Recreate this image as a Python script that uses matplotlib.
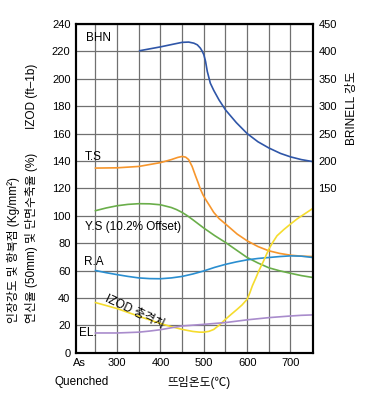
import matplotlib.pyplot as plt

plt.rcParams['font.family'] = ['Liberation Sans', 'Noto Sans CJK KR', 'DejaVu Sans']

# --- data (temperature in C, left axis units) ---
bhn_t = [352, 400, 430, 450, 465, 477, 485, 492, 496, 500, 504, 508, 515, 523, 535, 550, 575, 600, 625, 650, 677, 700, 725, 752]
bhn_v = [220.5, 223.3, 225.3, 226.6, 226.8, 226, 224.8, 222.4, 220.3, 217.6, 212.7, 205.4, 196.8, 191.5, 184.6, 177.3, 168, 160, 154, 149.5, 145.5, 143, 141, 139.5]

ts_t = [250, 300, 350, 400, 425, 440, 450, 458, 465, 473, 481, 487, 492, 498, 504, 514, 523, 535, 550, 577, 600, 625, 650, 675, 700, 725, 752]
ts_v = [134.8, 135, 136, 138.8, 141, 142.6, 143.3, 142.8, 141, 136, 129, 124, 119.5, 115.3, 112, 107, 102.4, 98, 94, 86.6, 81.7, 77.5, 74.4, 72.5, 71.2, 70.5, 70.2]

ys_t = [250, 275, 300, 325, 350, 375, 400, 425, 437, 450, 462, 475, 500, 525, 550, 575, 600, 625, 650, 675, 700, 725, 752]
ys_v = [103.7, 105.7, 107.3, 108.3, 108.8, 108.7, 108, 106, 104.5, 102.4, 100, 97, 91, 85.5, 80.5, 75, 69.5, 65.5, 62, 59.8, 58, 56.3, 54.9]

ra_t = [250, 275, 300, 325, 350, 375, 400, 425, 450, 475, 500, 525, 550, 575, 600, 625, 650, 675, 700, 725, 752]
ra_v = [60, 58.4, 57, 55.7, 54.6, 54.1, 54, 54.6, 55.7, 57.5, 59.7, 62.3, 64.5, 66.3, 67.8, 68.8, 69.5, 70.2, 70.7, 70.5, 69.5]

izod_t = [250, 300, 350, 400, 425, 450, 475, 490, 500, 512, 523, 537, 550, 565, 577, 588, 600, 606, 612, 620, 627, 638, 650, 660, 669, 685, 700, 715, 731, 752]
izod_v = [36.6, 32.2, 26.6, 21.3, 19, 17, 15.5, 15, 15, 15.6, 17, 20.5, 24.4, 28.5, 31.7, 34.8, 39, 43.5, 48.8, 54.5, 59.8, 67, 75.6, 81, 85.4, 90, 93.9, 97.6, 101, 105.4]

el_t = [250, 300, 350, 375, 400, 425, 450, 500, 550, 600, 650, 700, 725, 752]
el_v = [14.4, 14.4, 15, 15.8, 16.8, 18.2, 19.5, 20.7, 22, 24, 25.6, 26.8, 27.3, 27.6]

x_ticks = [300, 400, 500, 600, 700]
left_ticks = list(range(0, 241, 20))
right_ticks = list(range(150, 451, 50))

fig = plt.figure(figsize=(3.65, 4.03), dpi=100)
ax = fig.add_axes([76 / 365, 1 - 352.7 / 403, 237 / 365, 328.7 / 403])

ax.plot(bhn_t, bhn_v, color='#2f56a8', lw=1.2)
ax.plot(ts_t, ts_v, color='#f7962c', lw=1.2)
ax.plot(ys_t, ys_v, color='#6aae4a', lw=1.2)
ax.plot(ra_t, ra_v, color='#2a8ed0', lw=1.2)
ax.plot(izod_t, izod_v, color='#f5dc2e', lw=1.2)
ax.plot(el_t, el_v, color='#a98ccc', lw=1.2)

ax.set_xlim(205, 752)
ax.set_ylim(0, 240)
ax.set_xticks(x_ticks)
ax.set_xticks(list(range(250, 701, 50)), minor=True)
ax.set_yticks(left_ticks)
ax.grid(True, which='both', color='#707070', lw=0.9)
ax.tick_params(which='both', length=0, labelsize=8, pad=4)
for s in ax.spines.values():
    s.set_linewidth(1.5)

# right Brinell axis, same scale shifted: 240 -> 450, 140 -> 200
ax2 = ax.twinx()
ax2.set_ylim(-150, 450)
ax2.set_yticks(right_ticks)
ax2.tick_params(length=0, labelsize=8, pad=4)
for s in ax2.spines.values():
    s.set_linewidth(1.5)

# curve labels
fs = 8.5
ax.text(228, 230, 'BHN', fontsize=fs, va='center')
ax.text(226, 142.8, 'T.S', fontsize=fs, va='center')
ax.text(226, 91.7, 'Y.S (10.2% Offset)', fontsize=fs, va='center')
ax.text(224, 66.2, 'R.A', fontsize=fs, va='center')
ax.text(341, 29.7, 'IZOD 충격치', fontsize=fs, va='center', ha='center', rotation=-25)
ax.text(213, 14.3, 'EL.', fontsize=fs, va='center')

# x axis extras
ax.text(214, -4, 'As', fontsize=8, ha='center', va='top')
fig.text(82 / 365, 1 - 382.5 / 403, 'Quenched', fontsize=fs, ha='center', va='center')
fig.text(199 / 365, 1 - 382.5 / 403, '뜨임온도(℃)', fontsize=fs, ha='center', va='center')

# axis titles
fig.text(13 / 365, 1 - 323 / 403, '인장강도 및 항복점 (Kg/mm²)', fontsize=fs,
         rotation=90, rotation_mode='anchor', ha='left', va='center')
fig.text(31 / 365, 1 - 323 / 403, '연신율 (50mm) 및 단면수축율 (%)', fontsize=fs,
         rotation=90, rotation_mode='anchor', ha='left', va='center')
fig.text(32 / 365, 1 - 96 / 403, 'IZOD (ft–1b)', fontsize=fs,
         rotation=90, ha='center', va='center')
fig.text(352 / 365, 1 - 108 / 403, 'BRINELL 강도', fontsize=fs,
         rotation=90, ha='center', va='center')

fig.savefig('out.png', dpi=100)
